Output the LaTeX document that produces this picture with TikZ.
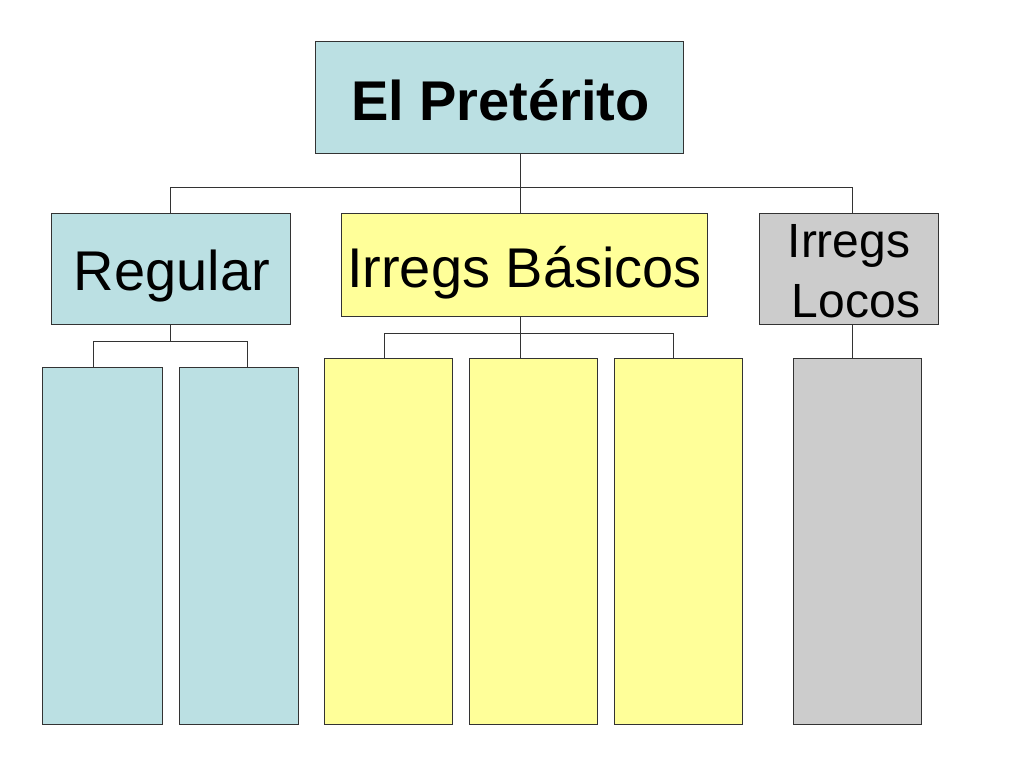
\documentclass[tikz,border=0pt]{standalone}
\usepackage{fontspec}
\setmainfont{Liberation Sans}
\definecolor{lblue}{HTML}{BBE0E3}
\definecolor{lyellow}{HTML}{FFFF99}
\definecolor{lgray}{HTML}{CCCCCC}
\definecolor{edge}{HTML}{333333}
\tikzset{
  box/.style={draw=edge, line width=1pt, rectangle, inner sep=0pt},
  conn/.style={draw=edge, line width=1pt},
  big/.style={inner sep=0pt, anchor=base, font=\fontsize{56}{67}\selectfont},
  mid/.style={inner sep=0pt, anchor=base, font=\fontsize{48}{58}\selectfont},
}
\begin{document}
\begin{tikzpicture}[x=1pt,y=-1pt]
\useasboundingbox (0,0) rectangle (1024,768);
% boxes
\node[box, fill=lblue, minimum width=368pt, minimum height=111pt] (top) at (499,97.5) {};
\node[box, fill=lblue, minimum width=239pt, minimum height=111pt] (reg) at (170.5,268.5) {};
\node[box, fill=lyellow, minimum width=366pt, minimum height=103pt] (bas) at (524,264.5) {};
\node[box, fill=lgray, minimum width=179pt, minimum height=111pt] (loc) at (848.5,268.5) {};
\node[box, fill=lblue, minimum width=120pt, minimum height=357pt] (r1) at (102,545.5) {};
\node[box, fill=lblue, minimum width=119pt, minimum height=357pt] (r2) at (238.5,545.5) {};
\node[box, fill=lyellow, minimum width=128pt, minimum height=366pt] (b1) at (388,541) {};
\node[box, fill=lyellow, minimum width=128pt, minimum height=366pt] (b2) at (533,541) {};
\node[box, fill=lyellow, minimum width=128pt, minimum height=366pt] (b3) at (678,541) {};
\node[box, fill=lgray, minimum width=128pt, minimum height=366pt] (l1) at (857,541) {};
% labels
\node[big, font=\fontsize{56}{67}\selectfont\bfseries] (ttop) at (500.5,120) {El Pretérito};
\node[big] (treg) at (172,290) {Regular};
\node[big] (tbas) at (524.5,287) {Irregs Básicos};
\node[mid] (tloc1) at (849,257) {Irregs};
\node[mid] (tloc2) at (856,317) {Locos};
% connector coordinates
\coordinate (stem) at (520,153);
\coordinate (barL) at (170.5,187);
\coordinate (barR) at (852,187);
\coordinate (rL) at (93,341);
\coordinate (rR) at (247.5,341);
\coordinate (bL) at (384,333);
\coordinate (bM) at (520,333);
\coordinate (bR) at (673,333);
\coordinate (lM) at (852,324);
% connectors
\draw[conn] (stem) -- (stem |- bas.north);
\draw[conn] (reg.north) -- (barL) -- (barR) -- (barR |- loc.north);
\draw[conn] (reg.south) |- (rL) -- (rL |- r1.north);
\draw[conn] (reg.south |- rL) -- (rR) -- (rR |- r2.north);
\draw[conn] (bM |- bas.south) -- (bM |- b2.north);
\draw[conn] (bL |- b1.north) -- (bL) -- (bR) -- (bR |- b3.north);
\draw[conn] (lM) -- (lM |- l1.north);
\end{tikzpicture}
\end{document}
